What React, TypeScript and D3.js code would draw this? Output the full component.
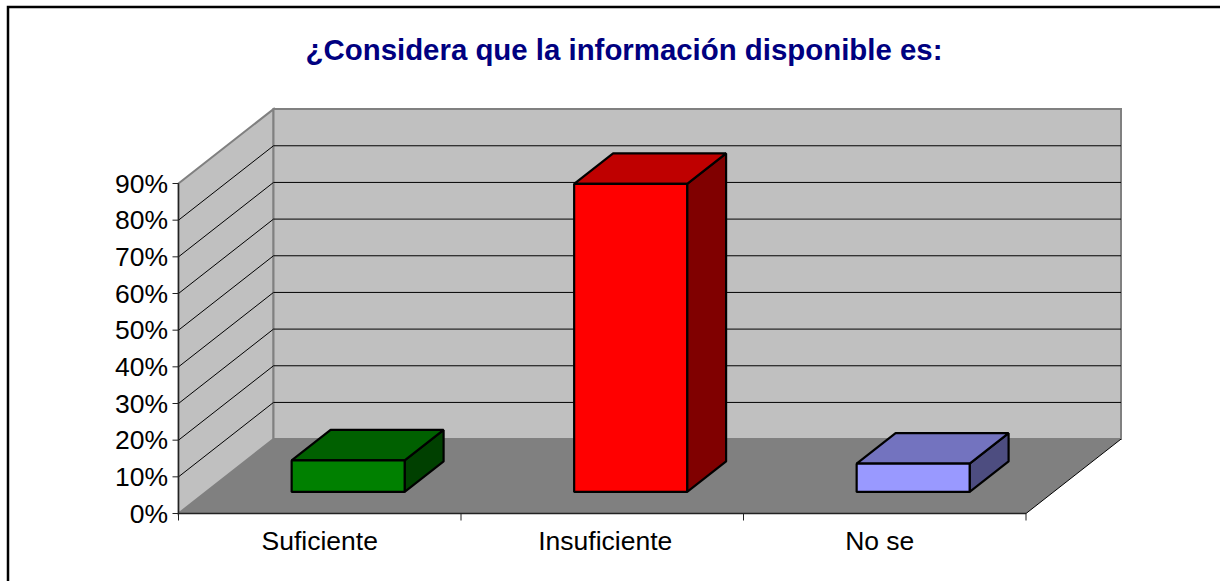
import * as d3 from 'd3'

const title = '¿Considera que la información disponible es:'
const categories = ['Suficiente', 'Insuficiente', 'No se']
const values = [8.6, 84, 7.7]
const yTicks = [0, 10, 20, 30, 40, 50, 60, 70, 80, 90]
const labelNudge = [0, 3, -5]

const barColors = [
  { front: '#008000', top: '#006000', side: '#004000' },
  { front: '#ff0000', top: '#bf0000', side: '#800000' },
  { front: '#9999ff', top: '#7373bf', side: '#4d4d80' },
]

const width = 1220
const height = 581
const depthX = 95
const depthY = 74.4

const xScale = d3.scaleBand<string>().domain(categories).range([178.5, 1026])
const yScale = d3.scaleLinear().domain([0, 90]).range([513.5, 183.5])

// z goes from the front of the floor (0) to the back wall (1)
const project = (x: number, y: number, z: number): [number, number] => [x + z * depthX, y - z * depthY]
const poly = (pts: [number, number][]) => d3.line()(pts) + 'Z'

const x0 = xScale.range()[0]
const x1 = xScale.range()[1]
const yBottom = yScale(0)
const yTop = yScale(90)

const sans = '"Liberation Sans", Arial, sans-serif'

function Bar({ i }: { i: number }) {
  const c = barColors[i]
  const band = xScale(categories[i]) as number
  const w = xScale.bandwidth() * 0.4
  const left = band + xScale.bandwidth() * 0.303
  const right = left + w
  const zf = 0.29
  const zb = 0.7
  const top = yScale(values[i])
  const bot = yScale(0)
  return (
    <g stroke="#000" strokeWidth={2.2} strokeLinejoin="bevel">
      <path d={poly([project(right, bot, zf), project(right, bot, zb), project(right, top, zb), project(right, top, zf)])} fill={c.side} />
      <path d={poly([project(left, top, zf), project(right, top, zf), project(right, top, zb), project(left, top, zb)])} fill={c.top} />
      <path d={poly([project(left, bot, zf), project(right, bot, zf), project(right, top, zf), project(left, top, zf)])} fill={c.front} />
    </g>
  )
}

function App() {
  return (
    <svg width={width} height={height} style={{ position: 'absolute', left: 0, top: 0 }} fontFamily={sans}>
      <rect width={width} height={height} fill="#fff" />
      <path d="M8,581V7H1220" fill="none" stroke="#000" strokeWidth={2.5} />

      <text x={624} y={60} textAnchor="middle" fontSize={29.4} fontWeight="bold" fill="#000080">{title}</text>

      {/* walls and floor */}
      <path d={poly([project(x0, yBottom, 0), project(x0, yBottom, 1), project(x1, yBottom, 1), project(x1, yBottom, 0)])} fill="#808080" />
      <path d={poly([project(x0, yBottom, 0), project(x0, yTop, 0), project(x0, yTop, 1), project(x0, yBottom, 1)])} fill="#c0c0c0" stroke="#808080" strokeWidth={2} />
      <path d={poly([project(x0, yBottom, 1), project(x0, yTop, 1), project(x1, yTop, 1), project(x1, yBottom, 1)])} fill="#c0c0c0" stroke="#808080" strokeWidth={2} />

      {/* gridlines */}
      {yTicks.filter(t => t > 0 && t < 90).map(t => (
        <path key={t} d={d3.line()([project(x0, yScale(t), 0), project(x0, yScale(t), 1), project(x1, yScale(t), 1)]) as string} fill="none" stroke="#000" strokeWidth={1} />
      ))}
      <path d={d3.line()([project(x1, yBottom, 1), project(x1, yBottom, 0)]) as string} stroke="#000" strokeWidth={1} fill="none" />

      {/* axes */}
      <path d={`M${x0},${yTop}V${yBottom}H${x1}`} fill="none" stroke="#222" strokeWidth={1.3} />
      {yTicks.map(t => (
        <g key={t}>
          <line x1={x0 - 6} x2={x0} y1={yScale(t)} y2={yScale(t)} stroke="#222" />
          <text x={168} y={yScale(t) + 9} textAnchor="end" fontSize={26.5} fill="#000">{t}%</text>
        </g>
      ))}
      {categories.map(c => (
        <line key={c} x1={xScale(c) as number} x2={xScale(c) as number} y1={yBottom} y2={yBottom + 7} stroke="#222" />
      ))}
      <line x1={x1} x2={x1} y1={yBottom} y2={yBottom + 7} stroke="#222" />

      {categories.map((c, i) => <Bar key={c} i={i} />)}

      {categories.map((c, i) => (
        <text key={c} x={(xScale(c) as number) + xScale.bandwidth() / 2 + labelNudge[i]} y={550} textAnchor="middle" fontSize={26.5} fill="#000">{c}</text>
      ))}
    </svg>
  )
}

export default App
